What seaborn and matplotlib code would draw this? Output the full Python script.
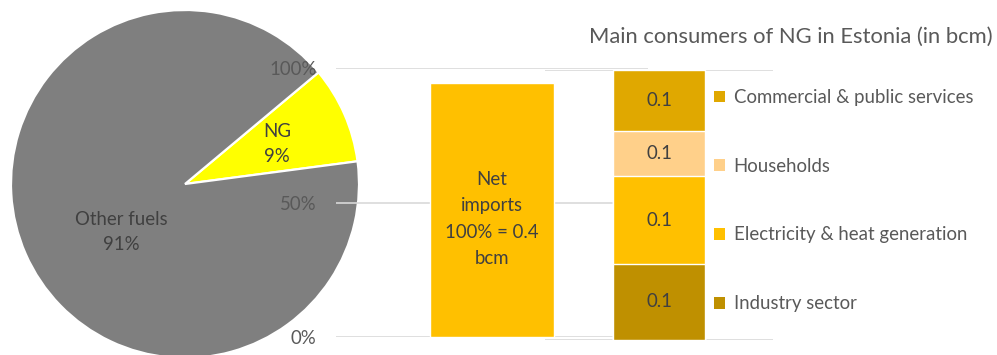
import matplotlib
matplotlib.use('Agg')
import matplotlib.pyplot as plt
import seaborn as sns
from matplotlib.patches import Patch

# ---------------- data ----------------
pie_labels = ['NG', 'Other fuels']
pie_values = [9, 91]
pie_colors = ['#FFFF00', '#7F7F7F']

import_category = ['Net imports']
import_share = [0.945]
import_text = 'Net\nimports\n100% = 0.4\nbcm'
import_color = '#FFC000'

consumer_category = ['Consumers']
consumers = ['Industry sector', 'Electricity & heat generation',
             'Households', 'Commercial & public services']
consumer_bcm = [0.112, 0.131, 0.067, 0.090]
consumer_colors = ['#BF9000', '#FFC000', '#FFD08A', '#E0A800']

yticks = [0, 0.5, 1.0]
ytick_labels = ['0%', '50%', '100%']
title = 'Main consumers of NG in Estonia (in bcm)'

# ---------------- style ----------------
sns.set_theme(style='white')
plt.rcParams['font.family'] = ['Lato', 'DejaVu Sans']
DARK = '#404040'
GRAY = '#595959'
GRID = '#D9D9D9'
FS = 13.4

W, H = 997, 355
fig = plt.figure(figsize=(W / 100, H / 100), dpi=100)


def rect(x0, y0, x1, y1):
    return [x0 / W, 1 - y1 / H, (x1 - x0) / W, (y1 - y0) / H]


# ---------------- pie ----------------
axp = fig.add_axes(rect(11, 10, 359, 358))
axp.pie(pie_values, colors=pie_colors, startangle=7.5, counterclock=True,
        wedgeprops=dict(edgecolor='white', linewidth=1.6))
axp.set_xlim(-1, 1)
axp.set_ylim(-1, 1)
axp.set_aspect('auto')
axp.axis('off')
axp.text(0.53, 0.23, f'{pie_labels[0]}\n{pie_values[0]}%', ha='center', va='center',
         fontsize=FS, color=DARK, linespacing=1.58)
axp.text(-0.368, -0.276, f'{pie_labels[1]}\n{pie_values[1]}%', ha='center', va='center',
         fontsize=FS, color=DARK, linespacing=1.58)

# ---------------- net imports bar ----------------
ax1 = fig.add_axes(rect(336, 68.3, 648, 337.3))
ax1.patch.set_alpha(0)
sns.barplot(x=import_category, y=import_share, color=import_color, saturation=1,
            width=0.8, ax=ax1)
ax1.set_xlim(-1.0, 1.0)
ax1.set_ylim(0, 1)
ax1.set_yticks(yticks)
ax1.set_yticklabels(ytick_labels)
ax1.set_xticks([])
ax1.set_xlabel('')
ax1.set_ylabel('')
ax1.grid(axis='y', color=GRID, linewidth=1.2)
ax1.set_axisbelow(True)
for s in ax1.spines.values():
    s.set_visible(False)
ax1.tick_params(axis='y', length=0, pad=14, labelcolor=GRAY, labelsize=FS)
ax1.text(0, 0.44, import_text, ha='center', va='center', fontsize=FS,
         color=DARK, linespacing=1.66)

# ---------------- stacked consumers bar ----------------
ax2 = fig.add_axes(rect(545, 70.3, 773, 339.7))
ax2.patch.set_alpha(0)
cum = []
tot = 0
for v in consumer_bcm:
    tot += v
    cum.append(tot)
for i in range(len(consumers) - 1, -1, -1):
    sns.barplot(x=consumer_category, y=[cum[i]], color=consumer_colors[i],
                saturation=1, width=0.8, ax=ax2)
for i, v in enumerate(consumer_bcm):
    ax2.text(0, cum[i] - v / 2, f'{v:.1f}', ha='center', va='center',
             fontsize=FS, color=DARK)
ax2.set_xlim(-1.0, 1.0)
ax2.set_ylim(0, tot)
ax2.set_yticks([0, tot])
ax2.set_yticklabels([])
ax2.set_xticks([])
ax2.set_xlabel('')
ax2.set_ylabel('')
ax2.grid(axis='y', color=GRID, linewidth=1.2)
ax2.set_axisbelow(True)
ax2.tick_params(axis='y', length=0)
for s in ax2.spines.values():
    s.set_visible(False)

# ---------------- legend & title ----------------
handles = [Patch(facecolor=consumer_colors[i], edgecolor='none') for i in range(3, -1, -1)]
labels = [consumers[i] for i in range(3, -1, -1)]
fig.legend(handles, labels, loc='upper left',
           bbox_to_anchor=(714 / W, 1 - 89 / H), frameon=False,
           handlelength=0.6, handleheight=0.6, handletextpad=0.45,
           labelspacing=2.78, fontsize=FS, labelcolor=GRAY,
           borderpad=0, borderaxespad=0)
fig.text(993 / W, 1 - 37 / H, title, ha='right', va='center', fontsize=15.8, color=GRAY)

fig.savefig('out.png', dpi=100)
